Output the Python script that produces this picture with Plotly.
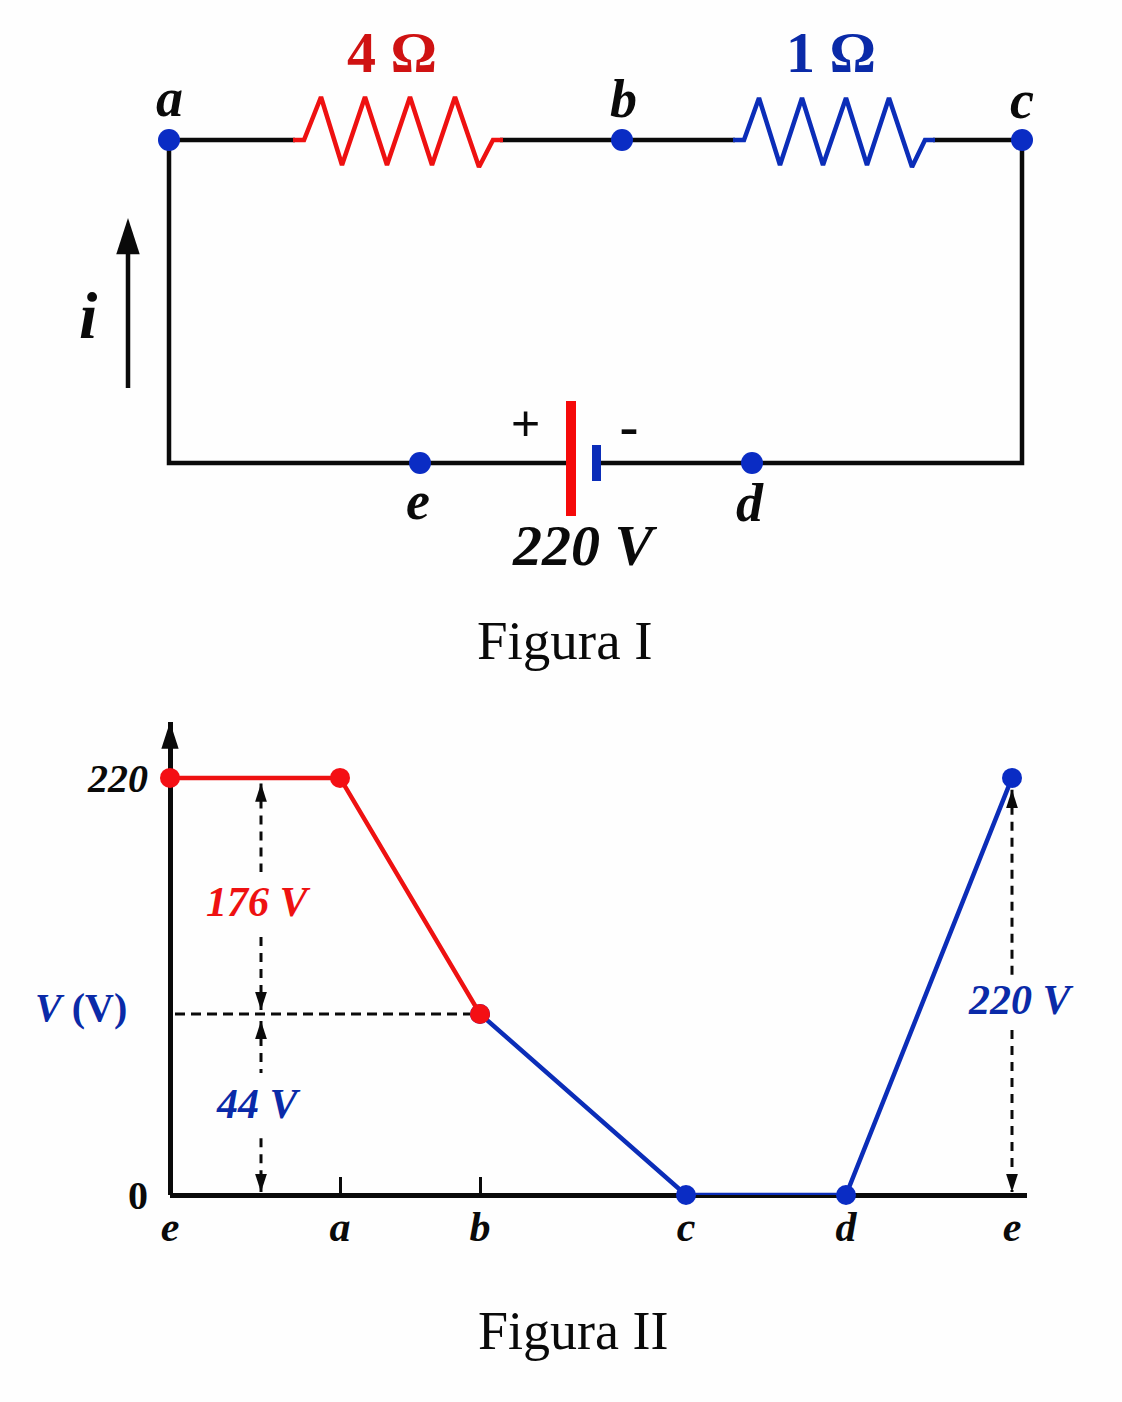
import plotly.graph_objects as go

# page size
W = 1122
H = 1402

SERIF = "Liberation Serif"
BLACK = "#0a0a0a"
RED = "#ee1111"
DARK_RED = "#cf1212"
BLUE = "#0b2db8"
TEXT_BLUE = "#0a2aa8"
DOT_BLUE = "#0a2cc4"
DOT_RED = "#f40f14"

# Figura I - circuit in page pixels
wire_x = [295, 169, 169, 566, None, 601, 1022, 1022, 933, None, 735, 500]
wire_y = [140, 140, 463, 463, None, 463, 463, 140, 140, None, 140, 140]
res4_x = [293, 304, 321, 342, 365, 387, 410, 432, 455, 479, 493, 503]
res4_y = [140, 140, 97, 165, 97, 165, 97, 165, 97, 167, 140, 140]
res1_x = [733, 744, 759, 780, 802, 823, 846, 867, 889, 912, 925, 935]
res1_y = [140, 140, 98, 165, 98, 165, 98, 165, 98, 167, 140, 140]
node_x = [169, 622, 1022, 420, 752]
node_y = [140, 140, 140, 463, 463]
plate_pos_x = [571, 571]
plate_pos_y = [401, 516]
plate_neg_x = [596.5, 596.5]
plate_neg_y = [445, 481]
current_x = [128, 128]
current_y = [388, 240]
current_tip_x = [128]
current_tip_y = [218]

# Figura II - potential along the circuit
positions = [0, 170, 310, 516, 676, 842]
pos_labels = ["e", "a", "b", "c", "d", "e"]
potential = [220, 220, 95.5, 0, 0, 220]
y_ticks = [0, 220]
y_tick_labels = ["<b>0</b>", "<b><i>220</i></b>"]
minor_ticks = [170, 310]

# dashed guides in the plot
drop_x = [91, 91, None, 91, 91, None, 91, 91, None, 91, 91]
drop_y = [217, 170.4, None, 136.1, 97.6, None, 91.8, 64.4, None, 30, 1.6]
total_x = [842, 842, None, 842, 842]
total_y = [213.7, 115, None, 87, 1.6]
guide_x = [5, 300]
guide_y = [95.5, 95.5]
tips_up_x = [91, 91, 842]
tips_up_y = [217, 91.8, 213.7]
tips_down_x = [91, 91, 842]
tips_down_y = [97.6, 1.6, 1.6]
axis_tip_x = [0]
axis_tip_y = [249.5]

fig = go.Figure()

# circuit
fig.add_trace(go.Scatter(x=wire_x, y=wire_y, mode="lines", line=dict(color=BLACK, width=4.5)))
fig.add_trace(go.Scatter(x=res4_x, y=res4_y, mode="lines", line=dict(color=RED, width=4.5)))
fig.add_trace(go.Scatter(x=res1_x, y=res1_y, mode="lines", line=dict(color=BLUE, width=4.5)))
fig.add_trace(go.Scatter(x=plate_pos_x, y=plate_pos_y, mode="lines", line=dict(color="#f50a0a", width=10)))
fig.add_trace(go.Scatter(x=plate_neg_x, y=plate_neg_y, mode="lines", line=dict(color=BLUE, width=9)))
fig.add_trace(go.Scatter(x=node_x, y=node_y, mode="markers", marker=dict(color=DOT_BLUE, size=22)))
fig.add_trace(go.Scatter(x=current_x, y=current_y, mode="lines", line=dict(color=BLACK, width=4.5)))
fig.add_trace(go.Scatter(x=current_tip_x, y=current_tip_y, mode="markers",
                         marker=dict(symbol="arrow", color=BLACK, size=38, line_width=0)))

# graph
GR = dict(xaxis="x2", yaxis="y2", cliponaxis=False)
fig.add_trace(go.Scatter(x=drop_x, y=drop_y, mode="lines", line=dict(color=BLACK, width=3, dash="9px,7px"), **GR))
fig.add_trace(go.Scatter(x=total_x, y=total_y, mode="lines", line=dict(color=BLACK, width=3, dash="9px,7px"), **GR))
fig.add_trace(go.Scatter(x=guide_x, y=guide_y, mode="lines", line=dict(color=BLACK, width=3, dash="10px,6px"), **GR))
fig.add_trace(go.Scatter(x=tips_up_x, y=tips_up_y, mode="markers",
                         marker=dict(symbol="arrow", color=BLACK, size=19, line_width=0), **GR))
fig.add_trace(go.Scatter(x=tips_down_x, y=tips_down_y, mode="markers",
                         marker=dict(symbol="arrow", angle=180, color=BLACK, size=19, line_width=0), **GR))
fig.add_trace(go.Scatter(x=axis_tip_x, y=axis_tip_y, mode="markers",
                         marker=dict(symbol="arrow", color=BLACK, size=28, line_width=0), **GR))
fig.add_trace(go.Scatter(x=positions[2:], y=potential[2:], mode="lines+markers",
                         line=dict(color=BLUE, width=4.5),
                         marker=dict(color=[DOT_BLUE] * 4, size=20), **GR))
fig.add_trace(go.Scatter(x=positions[:3], y=potential[:3], mode="lines+markers",
                         line=dict(color=RED, width=4.5),
                         marker=dict(color=DOT_RED, size=20), **GR))

# text: (x, y, string, size, colour)
page_labels = [
    (392, 52, "<b>4 Ω</b>", 58, DARK_RED),
    (831, 52, "<b>1 Ω</b>", 58, TEXT_BLUE),
    (169, 98, "<b><i>a</i></b>", 54, BLACK),
    (623, 99, "<b><i>b</i></b>", 54, BLACK),
    (1022, 100, "<b><i>c</i></b>", 54, BLACK),
    (88, 315, "<b><i>i</i></b>", 66, BLACK),
    (418, 501, "<b><i>e</i></b>", 54, BLACK),
    (750, 503, "<b><i>d</i></b>", 54, BLACK),
    (585, 545, "<b><i>220 V</i></b>", 58, BLACK),
    (565, 640, "Figura I", 55, BLACK),
    (573, 1331, "Figura II", 54, BLACK),
    (81, 1007, "<b><i>V</i> (V)</b>", 40, TEXT_BLUE),
    (258, 902, "<b><i>176 V</i></b>", 42, RED),
    (258, 1104, "<b><i>44 V</i></b>", 42, TEXT_BLUE),
    (1021, 1000, "<b><i>220 V</i></b>", 42, TEXT_BLUE),
]
annotations = [
    dict(x=x, y=y, xref="x", yref="y", text=t, showarrow=False, xanchor="center", yanchor="middle",
         font=dict(family=SERIF, size=s, color=c))
    for x, y, t, s, c in page_labels
]
annotations.append(dict(x=525, y=423, xref="x", yref="y", text="+", showarrow=False,
                        font=dict(family="Liberation Sans", size=50, color=BLACK)))
annotations.append(dict(x=629, y=426, xref="x", yref="y", text="-", showarrow=False,
                        font=dict(family="Liberation Sans", size=60, color=BLACK)))

fig.update_layout(
    template="none",
    width=W,
    height=H,
    margin=dict(l=0, r=0, t=0, b=0),
    paper_bgcolor="#fefefe",
    plot_bgcolor="rgba(0,0,0,0)",
    showlegend=False,
    annotations=annotations,
    xaxis=dict(range=[0, W], domain=[0, 1], visible=False, fixedrange=True),
    yaxis=dict(range=[H, 0], domain=[0, 1], visible=False, fixedrange=True),
    xaxis2=dict(
        domain=[170 / W, 1027 / W],
        range=[0, 857],
        anchor="y2",
        showgrid=False,
        showline=False,
        zeroline=True,
        zerolinecolor=BLACK,
        zerolinewidth=4.5,
        tickvals=positions,
        ticktext=[f"<b><i>{s}</i></b>" for s in pos_labels],
        ticks="",
        ticklabelstandoff=3,
        tickfont=dict(family=SERIF, size=42, color=BLACK),
        minor=dict(tickvals=minor_ticks, ticks="inside", ticklen=18, tickwidth=3, tickcolor=BLACK),
    ),
    yaxis2=dict(
        domain=[(H - 1195) / H, (H - 722) / H],
        range=[0, 249.5],
        anchor="x2",
        showgrid=False,
        showline=False,
        zeroline=True,
        zerolinecolor=BLACK,
        zerolinewidth=4.5,
        tickvals=y_ticks,
        ticktext=y_tick_labels,
        ticks="",
        ticklabelstandoff=21,
        tickfont=dict(family=SERIF, size=40, color=BLACK),
    ),
)

fig.write_html("out.html", post_script="document.body.style.margin='0';",
               config=dict(displayModeBar=False))
